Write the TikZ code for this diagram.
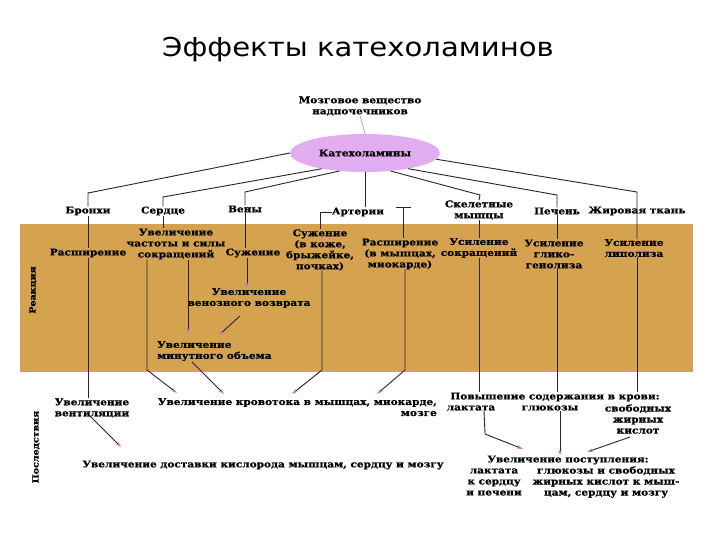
\documentclass[tikz,border=0pt]{standalone}
\usepackage{fontspec}
\usetikzlibrary{arrows.meta,shapes.geometric}
\newfontfamily\txfont[FakeStretch=1.13, BoldFeatures={FakeBold=0.8}]{DejaVu Serif}
\newfontfamily\ttlfont[FakeStretch=1.12]{DejaVu Sans}
\definecolor{band}{RGB}{213,162,80}
\definecolor{ellc}{RGB}{226,172,240}
\definecolor{tipc}{RGB}{200,110,210}
\tikzset{
  txt/.style={font=\txfont\bfseries\fontsize{9.3}{11}\selectfont, align=center, inner sep=0pt},
  side/.style={font=\txfont\bfseries\fontsize{8.4}{10}\selectfont, inner sep=0pt, rotate=90},
  ln/.style={draw=black!85, line width=0.9pt},
  ar/.style={ln, -{Stealth[length=6pt,width=3.5pt,color=tipc]}}
}
\begin{document}
\begin{tikzpicture}[x=1pt,y=-1pt]
\useasboundingbox (0,0) rectangle (720,540);
\fill[white] (0,0) rectangle (720,540);
\fill[band] (20,224) rectangle (693,372);

\node[font=\ttlfont\fontsize{26}{30}\selectfont, inner sep=0pt] (title) at (358,50) {Эффекты катехоламинов};

\node[txt] (mv) at (360,106) {Мозговое вещество\\надпочечников};
\node[ellipse, fill=ellc, minimum width=150pt, minimum height=38pt, inner sep=0pt, txt] (cat) at (365,153) {Катехоламины};
\draw[ln, draw=tipc!70] (mv.south) -- (cat.north);

% organs
\node[txt] (br) at (88,211) {Бронхи};
\node[txt] (he) at (163,211) {Сердце};
\node[txt] (ve) at (245,209) {Вены};
\node[txt] (art) at (358,212) {Артерии};
\node[txt] (sk) at (479,210) {Скелетные\\мышцы};
\node[txt] (li) at (557,211) {Печень};
\node[txt] (fat) at (637,211) {Жировая ткань};

\coordinate (kb) at (88,193);
\coordinate (kh) at (163,197);
\coordinate (kv) at (245,192);
\coordinate (ks) at (480,195);
\coordinate (kl) at (557,195);
\coordinate (kf) at (637,192);

% reactions
\node[txt] (r1) at (88,253) {Расширение};
\node[txt] (r2) at (176,244) {Увеличение\\частоты и силы\\сокращений};
\node[txt] (r3) at (253,253) {Сужение};
\node[txt] (r4) at (320,250) {Сужение\\(в коже,\\брыжейке,\\почках)};
\node[txt] (r5) at (400,254) {Расширение\\(в мышцах,\\миокарде)};
\node[txt] (r6) at (479,248) {Усиление\\сокращений};
\node[txt] (r7) at (554,254) {Усиление\\глико-\\генолиза};
\node[txt] (r8) at (634,248) {Усиление\\липолиза};
\node[txt] (vr) at (249,298) {Увеличение\\венозного возврата};
\node[txt, align=left, anchor=west] (mo) at (157,351) {Увеличение\\минутного объема};

\node[side] (lr) at (33,290) {Реакция};
\node[side] (lp) at (36,447) {Последствия};

% consequences
\node[txt] (c1) at (92,408) {Увеличение\\вентиляции};
\node[txt, align=right, anchor=north east] (c2) at (437,398) {Увеличение кровотока в мышцах, миокарде,\\мозге};
\node[txt] (c3) at (263,465) {Увеличение доставки кислорода мышцам, сердцу и мозгу};
\node[txt] (c4) at (555,397) {Повышение содержания в крови:};
\node[txt] (lac) at (471,408) {лактата};
\node[txt] (glu) at (550,408) {глюкозы};
\node[txt] (ffa) at (638,419) {свободных\\жирных\\кислот};
\node[txt] (c6) at (568,460) {Увеличение поступления:};
\node[txt] (c7) at (494,482) {лактата\\к сердцу\\и печени};
\node[txt] (c8) at (606,482) {глюкозы и свободных\\жирных кислот к мыш-\\цам, сердцу и мозгу};

% top connectors
\draw[ln] (cat.west) -- (kb) -- (br.north);
\draw[ln] (cat.200) -- (kh) -- (he.north);
\draw[ln] (cat.215) -- (kv) -- (ve.north);
\draw[ln] (cat.south) -- (cat.south |- art.north);
\draw[ln] (cat.325) -- (ks) -- (sk.north);
\draw[ln] (cat.340) -- (kl) -- (li.north);
\draw[ln] (cat.355) -- (kf) -- (kf |- r8.north);

% organ -> reaction
\draw[ln] (br.south) -- (r1.north);
\draw[ln] (he.south) -- (he.south |- r2.north);
\draw[ln] (ve.south) -- (ve.south |- r3.north);
\draw[ln] (art.west) -| (r4.north);
\coordinate (tA) at (396,207);
\coordinate (tB) at (411,207);
\coordinate (tC) at (403,207);
\draw[ln] (tA) -- (tB);
\draw[ln] (tC) -- (tC |- r5.north);
\draw[ln] (sk.south) -- (sk.south |- r6.north);
\draw[ln] (li.south) -- (li.south |- r7.north);

% inside band
\coordinate (h1) at (147,370);
\coordinate (h1e) at (177,393);
\coordinate (h2) at (188,0);
\coordinate (h2e) at (188,334);
\coordinate (v1) at (247,0);
\coordinate (vm1) at (240,316);
\coordinate (vm2) at (219,335);
\coordinate (mo1) at (192,362);
\coordinate (mo2) at (224,394);
\coordinate (a1) at (322,370);
\coordinate (a1e) at (292,394);
\coordinate (a2s) at (405,0);
\coordinate (a2) at (405,370);
\coordinate (a2e) at (377,394);

\draw[ln] (r1.south) -- (r1.south |- c1.north);
\draw[ar] (r2.south -| h1) -- (h1) -- (h1e);
\draw[ar] (r2.south -| h2) -- (h2e);
\draw[ar] (r3.south -| v1) -- (v1 |- vr.north);
\draw[ar] (vm1) -- (vm2);
\draw[ar] (mo1) -- (mo2);
\draw[ar] (r4.south -| a1) -- (a1) -- (a1e);
\draw[ar] (r5.south -| a2s) -- (a2) -- (a2e);
\draw[ln] (r6.south) -- (r6.south |- c4.north);
\draw[ln] (r7.south -| kl) -- (kl |- c4.north);
\draw[ln] (r8.south -| kf) -- (kf |- c4.north);

% lower
\coordinate (cv1) at (90,416);
\coordinate (cv2) at (121,447);
\draw[ar] (cv1) -- (cv2);
\coordinate (l1) at (484,0);
\coordinate (l2) at (485,434);
\coordinate (l3) at (523,449);
\draw[ar] (lac.south -| l1) -- (l2) -- (l3);
\coordinate (g1) at (560,0);
\draw[ar] (glu.south -| g1) -- (g1 |- c6.north);
\coordinate (f1) at (630,437);
\coordinate (f2) at (587,452);
\draw[ar] (f1) -- (f2);
\end{tikzpicture}
\end{document}
